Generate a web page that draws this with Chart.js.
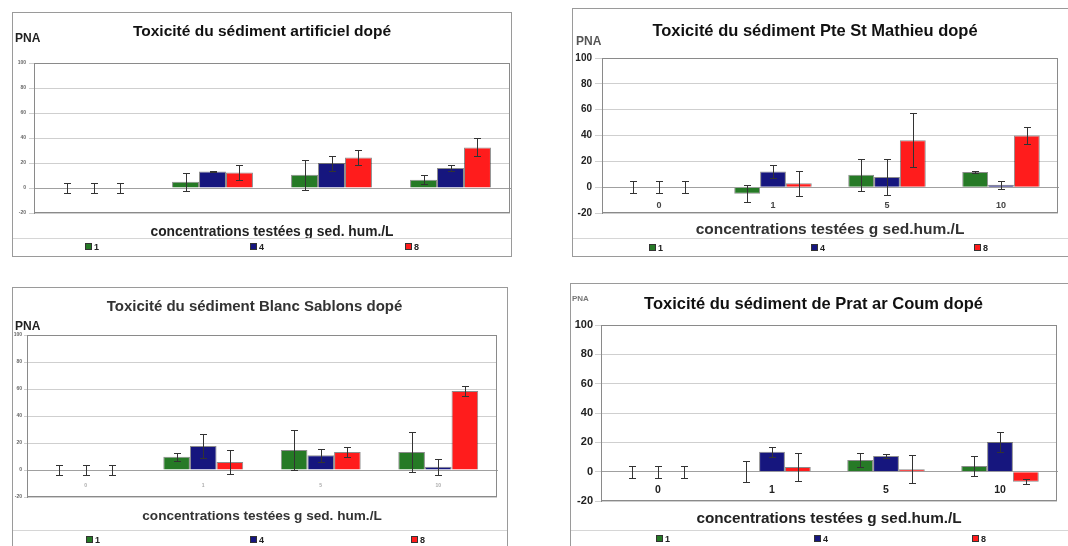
<!DOCTYPE html>
<html lang="fr">
<head>
<meta charset="utf-8">
<title>Toxicité des sédiments dopés</title>
<script src="https://cdn.jsdelivr.net/npm/chart.js@4.4.1/dist/chart.umd.min.js"></script>
<style>
  body { margin: 0; width: 1068px; height: 546px; background: #fff; position: relative; overflow: hidden;
         font-family: 'Liberation Sans', Arial, sans-serif; }
  .cadre { position: absolute; border: 1px solid #9a9a9a; box-sizing: border-box; }
  canvas { position: absolute; }
  .pna { position: absolute; font-weight: bold; line-height: 1; }
  .ligne { position: absolute; border-top: 1px solid #d6d6d6; height: 0; }
  .item { position: absolute; font-weight: bold; font-size: 9px; line-height: 9px; white-space: nowrap; color: #222; }
  .item i { display: inline-block; width: 5px; height: 5px; border: 1px solid #333; margin-right: 2px; vertical-align: 0; }
</style>
</head>
<body>
<script>
const concentrations = ['0', '1', '5', '10'];
const series = ['1', '4', '8'];
const graduationsY = [-20, 0, 20, 40, 60, 80, 100];

const titres = [
    'Toxicité du sédiment artificiel dopé',
    'Toxicité du sédiment Pte St Mathieu dopé',
    'Toxicité du sédiment Blanc Sablons dopé',
    'Toxicité du sédiment de Prat ar Coum dopé'
];
const titresX = [
    'concentrations testées g sed. hum./L',
    'concentrations testées g sed.hum./L',
    'concentrations testées g sed. hum./L',
    'concentrations testées g sed.hum./L'
];

// sédiment artificiel
const artificielValeurs = [
    [0, 5, 10.7, 6.7],
    [0, 13.3, 20, 16],
    [0, 12.5, 24.5, 32.5]
];
const artificielErreurs = [
    [4, 7, 12, 3.7],
    [4, 0.5, 6, 2.4],
    [4, 6.2, 5.9, 7.2]
];

// Pte St Mathieu
const mathieuValeurs = [
    [0, -5, 9.6, 11.7],
    [0, 12.2, 7.8, 1.8],
    [0, 3, 36.4, 40]
];
const mathieuErreurs = [
    [4.5, 6.5, 12.4, 0.8],
    [4.5, 5, 14, 3.2],
    [4.5, 9.5, 21, 6.5]
];

// Blanc Sablons
const sablonsValeurs = [
    [0, 9.9, 14.8, 13.3],
    [0, 17.8, 10.9, 2.5],
    [0, 5.9, 13.3, 58.5]
];
const sablonsErreurs = [
    [4, 3, 14.5, 15],
    [4, 9, 5, 6],
    [4, 8.7, 3.7, 3.7]
];

// Prat ar Coum
const pratValeurs = [
    [0, 0, 8, 3.9],
    [0, 13.6, 10.7, 20.2],
    [0, 3.2, 1.6, -6.8]
];
const pratErreurs = [
    [4, 7, 4.5, 7],
    [4, 3.4, 1.1, 6.8],
    [4, 9.5, 9.5, 1.8]
];

const couleurs = ['#267a26', '#16167e', '#ff1c1c'];

// mise en page de chaque graphique (coordonnées de la page)
const panneaux = [
    { valeurs: artificielValeurs, erreurs: artificielErreurs,
      cadre: [12, 12, 512, 257], zone: [34, 63, 510, 213], padL: 2,
      titre: { mid: 32, size: 15.5, color: '#111' },
      titreX: { mid: 232, size: 13.8, color: '#222' },
      pna: { x: 15, y: 32, size: 12, color: '#222' },
      ticksY: { size: 5, color: '#666', tick: 5, pad: 3 },
      cat: { show: false, size: 5, color: '#aaa', pad: 5 },
      legende: { ligne: 238, y: 243, x: [85, 250, 405] } },
    { valeurs: mathieuValeurs, erreurs: mathieuErreurs,
      cadre: [572, 8, 1070, 257], zone: [602, 58, 1058, 213], padL: 0,
      titre: { mid: 31, size: 16.5, color: '#111' },
      titreX: { mid: 230, size: 15.5, color: '#333' },
      pna: { x: 576, y: 35, size: 12, color: '#555' },
      ticksY: { size: 10, color: '#222', tick: 7, pad: 3 },
      cat: { show: true, size: 9, color: '#444', pad: 5 },
      legende: { ligne: 238, y: 244, x: [649, 811, 974] } },
    { valeurs: sablonsValeurs, erreurs: sablonsErreurs,
      cadre: [12, 287, 508, 548], zone: [27, 335, 497, 497], padL: 0,
      titre: { mid: 307, size: 15, color: '#333' },
      titreX: { mid: 516, size: 13.6, color: '#333' },
      pna: { x: 15, y: 320, size: 12, color: '#222' },
      ticksY: { size: 5, color: '#666', tick: 3, pad: 2 },
      cat: { show: true, size: 5, color: '#aaa', pad: 5 },
      legende: { ligne: 530, y: 536, x: [86, 250, 411] } },
    { valeurs: pratValeurs, erreurs: pratErreurs,
      cadre: [570, 283, 1070, 548], zone: [601, 325, 1057, 501], padL: 0,
      titre: { mid: 304, size: 16.5, color: '#111' },
      titreX: { mid: 519, size: 15.3, color: '#222' },
      pna: { x: 572, y: 295, size: 8, color: '#777' },
      ticksY: { size: 11, color: '#222', tick: 6, pad: 2 },
      cat: { show: true, size: 10.5, color: '#222', pad: 4 },
      legende: { ligne: 530, y: 535, x: [656, 814, 972] } }
];

Chart.defaults.font.family = "'Liberation Sans', Arial, sans-serif";

// barres d'erreur symétriques dessinées avec l'échelle y
const barresErreur = {
    id: 'barresErreur',
    afterDatasetsDraw(chart) {
        const { ctx } = chart;
        const y = chart.scales.y;
        ctx.save();
        ctx.strokeStyle = '#333';
        ctx.lineWidth = 1;
        chart.data.datasets.forEach((ds, i) => {
            chart.getDatasetMeta(i).data.forEach((bar, j) => {
                const v = ds.data[j];
                const e = ds.erreurs[j];
                const haut = Math.round(y.getPixelForValue(v + e)) + 0.5;
                const bas = Math.round(y.getPixelForValue(v - e)) + 0.5;
                const x = Math.round(bar.x) + 0.5;
                ctx.beginPath();
                ctx.moveTo(x, haut); ctx.lineTo(x, bas);
                ctx.moveTo(x - 3.5, haut); ctx.lineTo(x + 3.5, haut);
                ctx.moveTo(x - 3.5, bas); ctx.lineTo(x + 3.5, bas);
                ctx.stroke();
            });
        });
        ctx.restore();
    }
};

// cadre de la zone de tracé
const cadreZone = {
    id: 'cadreZone',
    beforeDatasetsDraw(chart) {
        const { ctx, chartArea: a } = chart;
        ctx.save();
        ctx.strokeStyle = '#8a8a8a';
        ctx.lineWidth = 1;
        ctx.strokeRect(Math.round(a.left) + 0.5, Math.round(a.top) + 0.5,
                       Math.round(a.width) - 1, Math.round(a.height) - 1);
        ctx.restore();
    }
};

function creerGraphique(p, n) {
    const [L, T, R, B] = p.cadre;
    const W = R - L, H = B - T;

    const cadre = document.createElement('div');
    cadre.className = 'cadre';
    cadre.style.cssText = `left:${L}px;top:${T}px;width:${W}px;height:${H}px;`;
    document.body.appendChild(cadre);

    const canvas = document.createElement('canvas');
    canvas.width = W;
    canvas.height = H;
    canvas.style.left = L + 'px';
    canvas.style.top = T + 'px';
    document.body.appendChild(canvas);

    const padR = R - p.zone[2];
    const largeurY = p.zone[0] - L - p.padL;
    const lh = p.titre.size * 1.2;
    const tHaut = p.titre.mid - T - lh / 2;
    const tBas = p.zone[1] - T - tHaut - lh;
    const hauteurX = B - p.zone[3];
    const lhX = p.titreX.size * 1.2;
    const xBas = B - p.titreX.mid - lhX / 2;

    new Chart(canvas, {
        type: 'bar',
        data: {
            labels: concentrations,
            datasets: series.map((nom, i) => ({
                label: nom,
                data: p.valeurs[i],
                erreurs: p.erreurs[i],
                backgroundColor: couleurs[i],
                borderColor: 'rgba(0,0,0,0.45)',
                borderWidth: 1,
                xAxisID: 'x',
                yAxisID: 'y'
            }))
        },
        options: {
            responsive: false,
            animation: false,
            categoryPercentage: 0.68,
            barPercentage: 1,
            layout: { padding: { left: p.padL, right: padR, top: 0, bottom: 0 } },
            plugins: {
                legend: { display: false },
                tooltip: { enabled: false },
                title: {
                    display: true,
                    text: titres[n],
                    color: p.titre.color,
                    font: { size: p.titre.size, weight: 'bold' },
                    padding: { top: tHaut, bottom: tBas }
                }
            },
            scales: {
                x: {
                    position: { y: 0 },
                    grid: { display: false },
                    border: { display: true, color: '#a0a0a0' },
                    ticks: {
                        display: p.cat.show,
                        color: p.cat.color,
                        padding: p.cat.pad,
                        font: { size: p.cat.size, weight: 'bold' }
                    }
                },
                x2: {
                    type: 'category',
                    position: 'bottom',
                    grid: { display: false },
                    border: { display: false },
                    ticks: { display: false },
                    title: {
                        display: true,
                        text: titresX[n],
                        color: p.titreX.color,
                        font: { size: p.titreX.size, weight: 'bold' },
                        padding: { top: 0, bottom: xBas }
                    },
                    afterFit: s => { s.height = hauteurX; }
                },
                y: {
                    min: graduationsY[0],
                    max: graduationsY[graduationsY.length - 1],
                    afterBuildTicks: s => { s.ticks = graduationsY.map(v => ({ value: v })); },
                    grid: { color: '#cfcfcf', tickLength: p.ticksY.tick },
                    border: { color: '#8a8a8a' },
                    ticks: {
                        color: p.ticksY.color,
                        padding: p.ticksY.pad,
                        font: { size: p.ticksY.size, weight: 'bold' }
                    },
                    afterFit: s => { s.width = largeurY; }
                }
            }
        },
        plugins: [cadreZone, barresErreur]
    });

    // "PNA" au-dessus de l'axe
    const pna = document.createElement('div');
    pna.className = 'pna';
    pna.textContent = 'PNA';
    pna.style.cssText = `left:${p.pna.x}px;top:${p.pna.y}px;font-size:${p.pna.size}px;color:${p.pna.color};`;
    document.body.appendChild(pna);

    // légende
    const ligne = document.createElement('div');
    ligne.className = 'ligne';
    ligne.style.cssText = `left:${L + 1}px;top:${p.legende.ligne}px;width:${W - 2}px;`;
    document.body.appendChild(ligne);

    series.forEach((nom, i) => {
        const item = document.createElement('div');
        item.className = 'item';
        item.style.left = p.legende.x[i] + 'px';
        item.style.top = p.legende.y + 'px';
        item.innerHTML = `<i style="background:${couleurs[i]}"></i>${nom}`;
        document.body.appendChild(item);
    });
}

panneaux.forEach(creerGraphique);
</script>
</body>
</html>
